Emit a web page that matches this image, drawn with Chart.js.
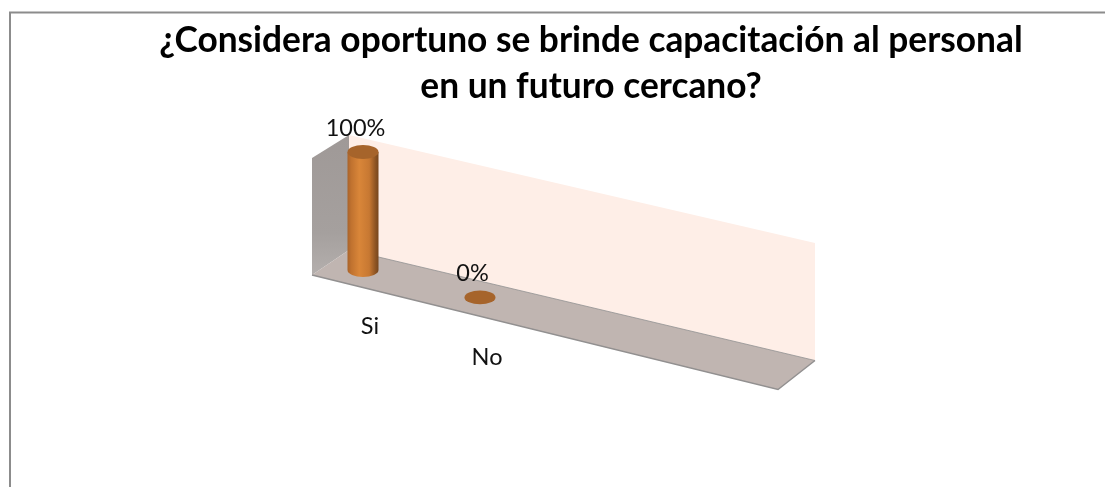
<!DOCTYPE html>
<html>
<head>
<meta charset="utf-8">
<style>
    html, body { margin: 0; padding: 0; background: #fff; }
    canvas { display: block; }
</style>
<script src="https://cdn.jsdelivr.net/npm/chart.js@4"></script>
</head>
<body>
<canvas id="myChart" width="1105" height="487"></canvas>
<script>
const titleLines = ['¿Considera oportuno se brinde capacitación al personal', 'en un futuro cercano?'];
const categories = ['Si', 'No'];
const values = [100, 0];
const labelFont = '23.5px Lato';

// the floor runs downhill to the right, this is the drop per pixel
const slope = 0.234;

function cylinder(ctx, el, dropY) {
    const rx = el.width / 2, ry = base3dRadius(el);
    const top = el.y + dropY, base = el.base + dropY;

    if (base - top > 1) {
        const grad = ctx.createLinearGradient(el.x - rx, 0, el.x + rx, 0);
        grad.addColorStop(0, '#a9632a');
        grad.addColorStop(0.12, '#c0722f');
        grad.addColorStop(0.38, '#d98639');
        grad.addColorStop(0.7, '#c77832');
        grad.addColorStop(0.9, '#8d5423');
        grad.addColorStop(1, '#75461e');
        ctx.beginPath();
        ctx.moveTo(el.x - rx, top);
        ctx.lineTo(el.x - rx, base);
        ctx.ellipse(el.x, base, rx, ry, 0, Math.PI, 0, true);
        ctx.lineTo(el.x + rx, top);
        ctx.closePath();
        ctx.fillStyle = grad;
        ctx.fill();
    }
    ctx.beginPath();
    ctx.ellipse(el.x, top, rx, ry, 0, 0, Math.PI * 2);
    ctx.fillStyle = '#a6642b';
    ctx.fill();
}

function base3dRadius(el) {
    return el.width * 0.225;
}

const fakeBars = {
    id: 'fakeBars',
    afterLayout(chart) {
        // title sits centred over the whole frame, not over the plot
        chart.titleBlock.left = 77;
        chart.titleBlock.right = 1105;
    },
    beforeDraw(chart) {
        const ctx = chart.ctx;
        ctx.save();
        ctx.strokeStyle = '#8c8c8c';
        ctx.lineWidth = 2;
        ctx.beginPath();
        ctx.moveTo(10, 487);
        ctx.lineTo(10, 12.5);
        ctx.lineTo(1105, 12.5);
        ctx.stroke();
        ctx.restore();
    },
    beforeDatasetsDraw(chart) {
        const { ctx, scales: { x, y } } = chart;
        const x0 = x.getPixelForValue(0);
        const backL = x0 - 14, backR = backL + 466, frontL = backL - 37, frontR = backR - 37;
        const floorL = y.getPixelForValue(0) - 20, floorR = floorL + 110.5;
        const topL = y.getPixelForValue(100) - 17, topR = topL + 108;

        ctx.save();
        // side wall
        const side = ctx.createLinearGradient(0, topL, 0, floorL + 25);
        side.addColorStop(0, '#9f9997');
        side.addColorStop(0.7, '#a5a09e');
        side.addColorStop(1, '#b4afad');
        ctx.fillStyle = side;
        ctx.beginPath();
        ctx.moveTo(frontL, topL + 23);
        ctx.lineTo(backL, topL);
        ctx.lineTo(backL, floorL);
        ctx.lineTo(frontL, floorL + 25);
        ctx.closePath();
        ctx.fill();

        // back wall
        ctx.fillStyle = '#feeee7';
        ctx.beginPath();
        ctx.moveTo(backL, topL);
        ctx.lineTo(backR, topR);
        ctx.lineTo(backR, floorR);
        ctx.lineTo(backL, floorL);
        ctx.closePath();
        ctx.fill();

        // floor
        ctx.fillStyle = '#c0b5b1';
        ctx.beginPath();
        ctx.moveTo(frontL, floorL + 25);
        ctx.lineTo(backL, floorL);
        ctx.lineTo(backR, floorR);
        ctx.lineTo(frontR, floorR + 29);
        ctx.closePath();
        ctx.fill();

        ctx.strokeStyle = '#929090';
        ctx.lineWidth = 1.5;
        ctx.beginPath();
        ctx.moveTo(frontL, floorL + 25);
        ctx.lineTo(frontR, floorR + 29);
        ctx.lineTo(backR, floorR);
        ctx.stroke();
        ctx.lineWidth = 0.8;
        ctx.beginPath();
        ctx.moveTo(backL, floorL);
        ctx.lineTo(backR, floorR);
        ctx.stroke();
        ctx.restore();
    },
    afterDatasetsDraw(chart) {
        const { ctx, scales: { x } } = chart;
        const bars = chart.getDatasetMeta(0).data;
        const x0 = bars[0].x;

        ctx.save();
        bars.forEach((el, i) => {
            const dropY = (el.x - x0) * slope;
            cylinder(ctx, el, dropY);

            ctx.font = labelFont;
            ctx.fillStyle = '#111';
            ctx.textAlign = 'center';
            ctx.textBaseline = 'middle';
            ctx.fillText(values[i] + '%', el.x - 7.5, el.y + dropY - 24);
            // category labels fall a bit faster than the floor does
            ctx.fillText(x.getLabelForValue(i), el.x + 7, el.base + 56 + (el.x - x0) * 0.265);
        });
        ctx.restore();
    }
};

new Chart(document.getElementById('myChart').getContext('2d'), {
    type: 'bar',
    data: {
        labels: categories,
        datasets: [{
            data: values,
            backgroundColor: 'rgba(0, 0, 0, 0)',
            barPercentage: 31 / 117,
            categoryPercentage: 1
        }]
    },
    options: {
        responsive: false,
        animation: false,
        layout: {
            padding: { left: 304.5, right: 566.5, bottom: 217 }
        },
        plugins: {
            legend: { display: false },
            tooltip: { enabled: false },
            title: {
                display: true,
                text: titleLines,
                color: '#000',
                font: { family: 'Lato', size: 35.3, weight: 'bold', lineHeight: 46 / 35.3 },
                padding: { top: 18, bottom: 42 }
            }
        },
        scales: {
            x: { display: false },
            y: { display: false, min: 0, max: 100 }
        }
    },
    plugins: [fakeBars]
});
</script>
</body>
</html>
